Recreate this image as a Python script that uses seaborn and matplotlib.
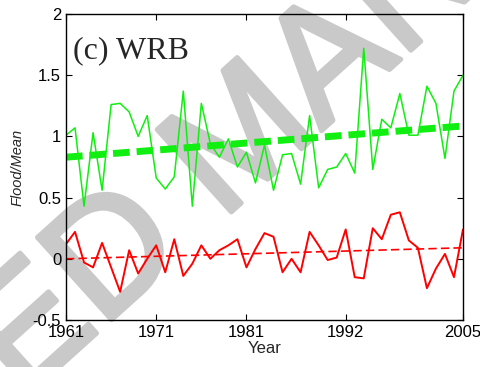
import numpy as np
import pandas as pd
import matplotlib
matplotlib.use("Agg")
import matplotlib.pyplot as plt
import matplotlib.patheffects as pe
import seaborn as sns

years = list(range(1961, 2006))
flood_mean = [1.01, 1.07, 0.43, 1.03, 0.56, 1.26, 1.27, 1.20, 1.00, 1.17,
              0.66, 0.57, 0.67, 1.37, 0.43, 1.27, 0.94, 0.83, 0.98, 0.75,
              0.87, 0.62, 0.93, 0.56, 0.85, 0.86, 0.61, 1.17, 0.58, 0.73,
              0.75, 0.86, 0.70, 1.72, 0.73, 1.14, 1.07, 1.35, 1.01, 1.01,
              1.41, 1.27, 0.82, 1.37, 1.50]
red_series = [0.12, 0.22, -0.03, -0.07, 0.13, -0.07, -0.27, 0.07, -0.12, 0.00,
              0.11, -0.11, 0.16, -0.14, -0.04, 0.11, 0.00, 0.07, 0.11, 0.16,
              -0.07, 0.08, 0.21, 0.18, -0.11, 0.00, -0.11, 0.22, 0.11, -0.01,
              0.01, 0.24, -0.15, -0.16, 0.25, 0.16, 0.36, 0.38, 0.15, 0.09,
              -0.24, -0.08, 0.04, -0.15, 0.24]
trend_years = [1961, 2005]
green_trend = [0.83, 1.085]
red_trend = [0.00, 0.09]
xtick_years = [1961, 1971, 1981, 1992, 2005]
ytick_vals = [-0.5, 0, 0.5, 1, 1.5, 2]
ytick_labels = ["-0.5", "0", "0.5", "1", "1.5", "2"]
panel_label = "(c) WRB"
watermark = "ACCEPTED MANUSCRIPT"

df = pd.DataFrame({"Year": years, "flood": flood_mean, "red": red_series})
tdf = pd.DataFrame({"Year": trend_years, "g": green_trend, "r": red_trend})

sns.set_style("ticks")
plt.rcParams["font.family"] = ["Liberation Sans", "DejaVu Sans"]

fig = plt.figure(figsize=(4.8, 3.67), dpi=100)
ax = fig.add_axes([66/480, 1-320/367, (463-66)/480, (320-14)/367])
ax.set_facecolor("none")

wm_color = "#c9c9c9"
fig.text(247/480, 1-142/367, watermark, rotation=42, fontsize=116,
         color=wm_color, ha="center", va="center", zorder=-5,
         family=["Liberation Sans", "DejaVu Sans"],
         path_effects=[pe.withStroke(linewidth=3.5, foreground=wm_color)])

green = "#11ee11"
red = "#ff0000"
sns.lineplot(data=df, x="Year", y="flood", ax=ax, color=green, lw=1.1)
sns.lineplot(data=tdf, x="Year", y="g", ax=ax, color=green, lw=5,
             linestyle=(0, (2.4, 1.0)))
sns.lineplot(data=df, x="Year", y="red", ax=ax, color=red, lw=1.4)
sns.lineplot(data=tdf, x="Year", y="r", ax=ax, color=red, lw=1.2,
             linestyle=(0, (5, 2.5)))

ax.set_xlim(1961, 2005)
ax.set_ylim(-0.5, 2)
ax.set_xticks(xtick_years)
ax.set_xticklabels([str(y) for y in xtick_years])
ax.set_yticks(ytick_vals)
ax.set_yticklabels(ytick_labels)
ax.tick_params(direction="in", length=4, width=0.8, top=True, right=True,
               labelsize=12, colors="black", pad=3.5)
for s in ax.spines.values():
    s.set_visible(True)
    s.set_linewidth(1.0)
    s.set_color("black")
ax.set_xlabel("Year", fontsize=12, labelpad=1)
ax.set_ylabel("Flood/Mean", fontsize=10.5, style="italic", labelpad=6)
ax.text(0.018, 0.856, panel_label, transform=ax.transAxes, fontsize=23,
        family=["Liberation Serif", "DejaVu Serif"], va="baseline", ha="left")

fig.savefig("out.png", dpi=100)
